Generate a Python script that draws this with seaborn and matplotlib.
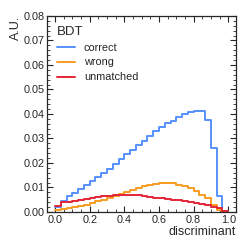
import numpy as np
import pandas as pd
import matplotlib
matplotlib.use('Agg')
import matplotlib.pyplot as plt
import seaborn as sns
from matplotlib.ticker import MultipleLocator, AutoMinorLocator

# binned discriminant distributions (30 bins from 0 to 1, normalised)
edges = np.linspace(0, 1, 31)
centers = 0.5 * (edges[:-1] + edges[1:])

correct = [0.0019, 0.0046, 0.0063, 0.0077, 0.0094, 0.0108, 0.0125, 0.0141, 0.0157, 0.0174,
           0.0195, 0.0214, 0.0235, 0.0253, 0.0272, 0.0291, 0.0309, 0.0329, 0.0346, 0.0361,
           0.0370, 0.0386, 0.0398, 0.0406, 0.0410, 0.0410, 0.0376, 0.0260, 0.0063, 0.0]
wrong = [0.0006, 0.0012, 0.0016, 0.0020, 0.0025, 0.0030, 0.0036, 0.0043, 0.0050, 0.0058,
         0.0066, 0.0074, 0.0082, 0.0090, 0.0097, 0.0104, 0.0110, 0.0115, 0.0118, 0.0118,
         0.0116, 0.0111, 0.0104, 0.0097, 0.0086, 0.0071, 0.0056, 0.0029, 0.0008, 0.0]
unmatched = [0.0025, 0.0040, 0.0042, 0.0045, 0.0048, 0.0052, 0.0056, 0.0060, 0.0063, 0.0066,
             0.0068, 0.0069, 0.0070, 0.0069, 0.0067, 0.0064, 0.0061, 0.0058, 0.0055, 0.0052,
             0.0050, 0.0047, 0.0044, 0.0041, 0.0037, 0.0033, 0.0028, 0.0022, 0.0014, 0.0005]

labels = ['correct', 'wrong', 'unmatched']
colors = ['#5790fc', '#f89c20', '#e42536']

sns.set_style('ticks')
plt.rcParams['font.family'] = ['Liberation Sans', 'DejaVu Sans']

fig = plt.figure(figsize=(2.49, 2.49), dpi=100)
ax = fig.add_axes([0.189, 0.149, 0.759, 0.787])

for vals, lab, col in zip([correct, wrong, unmatched], labels, colors):
    df = pd.DataFrame({'disc': centers, 'w': vals})
    sns.histplot(data=df, x='disc', weights='w', bins=list(edges), element='step', fill=False,
                 color=col, linewidth=1.4, label=lab, ax=ax)

ax.set_xlim(-0.046, 1.045)
ax.set_ylim(0, 0.08)
ax.xaxis.set_major_locator(MultipleLocator(0.2))
ax.xaxis.set_minor_locator(AutoMinorLocator(4))
ax.yaxis.set_major_locator(MultipleLocator(0.01))
ax.yaxis.set_minor_locator(AutoMinorLocator(5))
ax.tick_params(which='both', direction='in', top=True, right=True, labelsize=7.8, pad=2)
ax.tick_params(which='major', length=4, width=0.8)
ax.tick_params(which='minor', length=2, width=0.6)
for s in ax.spines.values():
    s.set_linewidth(0.9)

ax.set_xlabel('discriminant', loc='right', fontsize=9, labelpad=1)
ax.set_ylabel('A.U.', loc='top', fontsize=9, labelpad=1)

leg = ax.legend(title='BDT', loc='upper left', frameon=False, fontsize=7.8,
                title_fontsize=9.5, handlelength=1.7, handletextpad=0.8,
                labelspacing=0.45, borderaxespad=0.5)
leg._legend_box.align = 'left'

fig.savefig('out.png', dpi=100)
